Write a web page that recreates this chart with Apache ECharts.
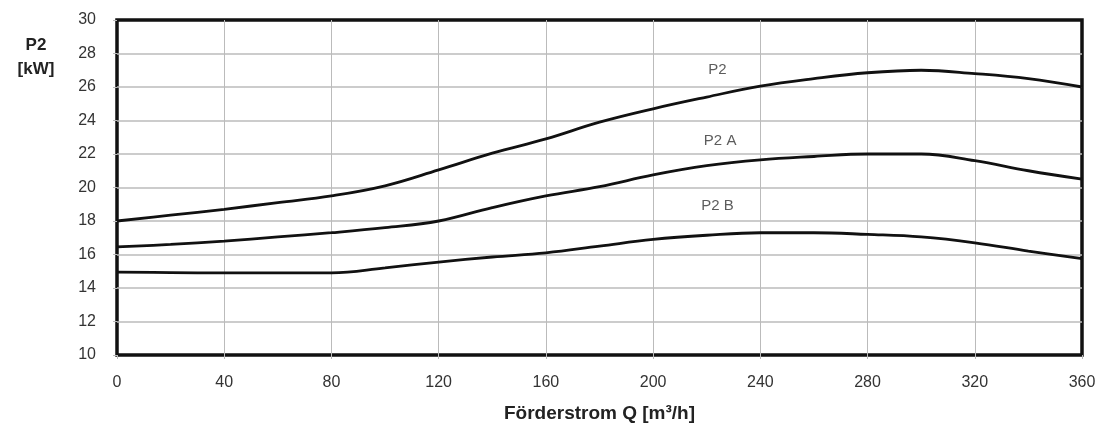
<!DOCTYPE html>
<html>
<head>
<meta charset="utf-8">
<script src="https://cdn.jsdelivr.net/npm/echarts@6/dist/echarts.min.js"></script>
<style>
  html, body { margin: 0; padding: 0; background: #fff; }
  #chart { width: 1104px; height: 432px; }
</style>
</head>
<body>
<div id="chart"></div>
<script>
// Förderstrom Q [m³/h]
var flow = [0, 20, 40, 60, 80, 100, 120, 140, 160, 180, 200, 220, 240, 260, 280, 300, 320, 340, 360];
// Leistung P2 [kW]
var p2 = [18.0, 18.35, 18.7, 19.1, 19.5, 20.1, 21.05, 22.05, 22.9, 23.9, 24.7, 25.4, 26.05, 26.5, 26.85, 27.0, 26.8, 26.5, 26.0];
var p2a = [16.45, 16.6, 16.8, 17.05, 17.3, 17.6, 18.0, 18.8, 19.5, 20.05, 20.75, 21.3, 21.65, 21.85, 22.0, 22.0, 21.6, 21.0, 20.5];
var p2b = [14.95, 14.92, 14.9, 14.9, 14.9, 15.2, 15.55, 15.85, 16.1, 16.5, 16.9, 17.15, 17.3, 17.3, 17.2, 17.05, 16.7, 16.2, 15.75];
// Kurvenbeschriftung
var curveNames = ['P2', 'P2 A', 'P2 B'];
var labelQ = [224, 225, 224];
var labelP = [27.0, 22.8, 18.9];

var pairs = function (ys) {
  return flow.map(function (q, i) { return [q, ys[i]]; });
};

var lineSeries = function (ys) {
  return {
    type: 'line',
    data: pairs(ys),
    smooth: 0.4,
    showSymbol: false,
    lineStyle: { color: '#111', width: 2.8 },
    silent: true
  };
};

var chart = echarts.init(document.getElementById('chart'));
chart.setOption({
  backgroundColor: '#fff',
  animation: false,
  textStyle: { fontFamily: 'Liberation Sans, Arial, sans-serif' },
  title: {
    text: 'P2\n[kW]',
    left: 31,
    top: 28,
    textAlign: 'center',
    textStyle: { fontSize: 17, fontWeight: 'bold', color: '#222', lineHeight: 24 }
  },
  grid: {
    left: 117,
    right: 22,
    top: 20,
    bottom: 77,
    show: true,
    borderColor: '#111',
    borderWidth: 3.5
  },
  xAxis: {
    type: 'value',
    min: 0,
    max: 360,
    interval: 40,
    name: 'Förderstrom Q [m³/h]',
    nameLocation: 'middle',
    nameGap: 49,
    nameTextStyle: { fontSize: 19, fontWeight: 'bold', color: '#222' },
    axisLine: { show: false },
    axisTick: { show: true, length: 4, lineStyle: { color: '#bbb' } },
    axisLabel: { fontSize: 16, color: '#333', margin: 20 },
    splitLine: { show: true, showMinLine: false, showMaxLine: false, lineStyle: { color: '#bbb', width: 1 } }
  },
  yAxis: {
    type: 'value',
    min: 10,
    max: 30,
    interval: 2,
    axisLine: { show: false },
    axisTick: { show: true, length: 4, lineStyle: { color: '#bbb' } },
    axisLabel: { fontSize: 16, color: '#333', margin: 21 },
    splitLine: { show: true, showMinLine: false, showMaxLine: false, lineStyle: { color: '#bbb', width: 1.5 } }
  },
  series: [
    lineSeries(p2),
    lineSeries(p2a),
    lineSeries(p2b),
    {
      type: 'scatter',
      symbolSize: 0,
      silent: true,
      data: curveNames.map(function (n, i) { return { name: n, value: [labelQ[i], labelP[i]] }; }),
      label: {
        show: true,
        position: 'inside',
        formatter: '{b}',
        fontSize: 15,
        color: '#333'
      }
    }
  ]
});
</script>
</body>
</html>
